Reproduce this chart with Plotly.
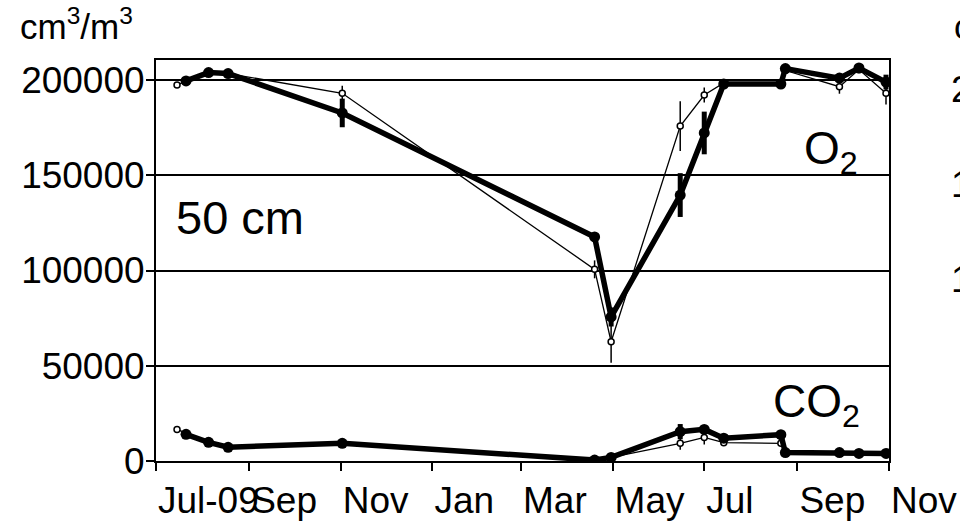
import plotly.graph_objects as go

# Sampling dates (thick series = probe A, thin series = probe B)
dates_a = ["2009-07-21", "2009-08-05", "2009-08-18", "2009-11-02", "2010-04-19", "2010-04-30",
           "2010-06-15", "2010-07-01", "2010-07-14", "2010-08-21", "2010-08-24", "2010-09-29",
           "2010-10-12", "2010-10-30"]
dates_b = ["2009-07-15", "2009-08-05", "2009-08-18", "2009-11-02", "2010-04-19", "2010-04-30",
           "2010-06-15", "2010-07-01", "2010-07-14", "2010-08-21", "2010-08-24", "2010-09-29",
           "2010-10-12", "2010-10-30"]

# O2 concentrations (cm3/m3) and standard errors
o2_a = [199500, 203900, 203400, 182700, 117600, 75600, 139600, 172200, 197900, 197900,
        206000, 201000, 206300, 198900]
o2_a_err = [0, 0, 0, 7500, 0, 5000, 11500, 11200, 0, 0, 0, 0, 0, 3900]
o2_b = [197400, 203900, 203400, 193000, 100600, 62600, 175800, 192100, 198500, 198500,
        205000, 196500, 205500, 193000]
o2_b_err = [0, 0, 0, 4000, 4700, 11000, 13100, 3900, 0, 0, 0, 3700, 1500, 5800]

# CO2 concentrations (cm3/m3) and standard errors
co2_a = [14000, 9800, 7200, 9300, 500, 1900, 15400, 16600, 12000, 13800, 4400, 4400, 4000, 4000]
co2_a_err = [0, 0, 0, 1500, 0, 0, 4000, 0, 0, 0, 0, 0, 0, 0]
co2_b = [16600, 9800, 7200, 9300, 500, 1900, 9300, 12400, 9600, 9300, 4400, 4400, 4000, 4000]
co2_b_err = [0, 0, 0, 0, 0, 0, 3400, 3700, 0, 0, 0, 0, 0, 0]

# Axis ticks
x_tick_dates = ["2009-07-01", "2009-09-01", "2009-11-01", "2010-01-01", "2010-03-01",
                "2010-05-01", "2010-07-01", "2010-09-01", "2010-11-01"]
x_tick_labels = ["Jul-09", "Sep", "Nov", "Jan", "Mar", "May", "Jul", "Sep", "Nov"]
y_tick_vals = [0, 50000, 100000, 150000, 200000]
y_tick_labels = ["0", "50000", "100000", "150000", "200000"]

FONT = "Liberation Sans, Arial, sans-serif"

fig = go.Figure()


def thin_trace(x, y, err):
    return go.Scatter(
        x=x, y=y, mode="lines+markers",
        line=dict(color="black", width=1.3),
        marker=dict(symbol="circle", size=6, color="white", line=dict(color="black", width=1.5)),
        error_y=dict(type="data", array=err, visible=True, thickness=1.5, width=0, color="black"),
        showlegend=False, hoverinfo="x+y",
    )


def thick_trace(x, y, err):
    return go.Scatter(
        x=x, y=y, mode="lines+markers",
        line=dict(color="black", width=5.5),
        marker=dict(symbol="circle", size=11, color="black"),
        error_y=dict(type="data", array=err, visible=True, thickness=5, width=0, color="black"),
        showlegend=False, hoverinfo="x+y",
    )


fig.add_trace(thin_trace(dates_b, o2_b, o2_b_err))
fig.add_trace(thin_trace(dates_b, co2_b, co2_b_err))
fig.add_trace(thick_trace(dates_a, o2_a, o2_a_err))
fig.add_trace(thick_trace(dates_a, co2_a, co2_a_err))


def px_x(px):
    return (px - 156) / 733


def px_y(py):
    return (461 - py) / 401


def label(text, x, y, size):
    return dict(text=text, xref="paper", yref="paper", x=px_x(x), y=px_y(y),
                xanchor="left", yanchor="middle", showarrow=False,
                font=dict(family=FONT, size=size, color="black"))


annotations = [
    label("cm<sup>3</sup>/m<sup>3</sup>", 18, 24, 35),
    label("50 cm", 174, 217, 47),
    label("O<sub>2</sub>", 802, 151, 46),
    label("CO<sub>2</sub>", 771, 404, 46),
    # start of the neighbouring panel's labels at the right edge
    label("cm<sup>3</sup>/m<sup>3</sup>", 952, 24, 35),
    label("200000", 949, 89, 37),
    label("150000", 949, 184, 37),
    label("100000", 949, 279, 37),
]

fig.update_layout(
    width=960, height=521,
    margin=dict(l=156, r=71, t=60, b=60, pad=0, autoexpand=False),
    paper_bgcolor="white", plot_bgcolor="white",
    font=dict(family=FONT, color="black"),
    annotations=annotations,
    xaxis=dict(
        type="date", range=["2009-07-01", "2010-11-01"], automargin=False,
        tickmode="array", tickvals=x_tick_dates, ticktext=x_tick_labels,
        tickangle=0, ticklabelposition="outside right", ticklabelstandoff=6,
        ticks="outside", ticklen=8, tickwidth=2, tickcolor="black",
        showline=True, linewidth=2, linecolor="black", mirror=True,
        showgrid=False, zeroline=False,
        tickfont=dict(family=FONT, size=37, color="black"),
    ),
    yaxis=dict(
        range=[0, 210500], automargin=False,
        tickmode="array", tickvals=y_tick_vals, ticktext=y_tick_labels,
        ticklabelstandoff=-6,
        ticks="outside", ticklen=8, tickwidth=2, tickcolor="black",
        showline=True, linewidth=2, linecolor="black", mirror=True,
        showgrid=True, gridcolor="black", gridwidth=2, zeroline=False,
        tickfont=dict(family=FONT, size=37, color="black"),
    ),
)

fig.write_html("out.html")
